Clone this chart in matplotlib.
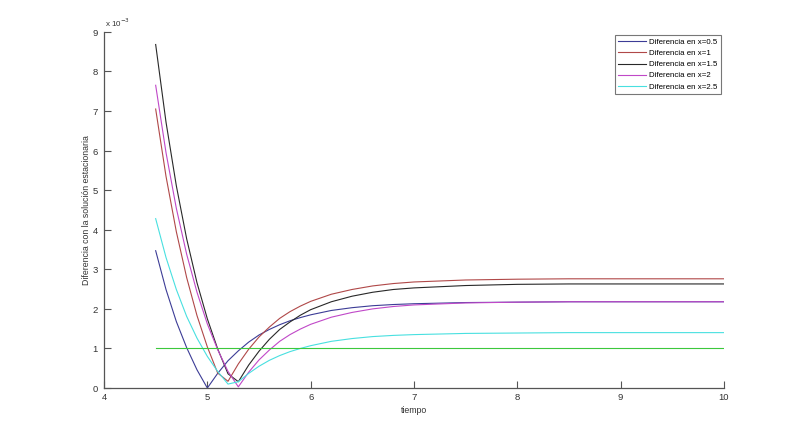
import numpy as np
import matplotlib.pyplot as plt
from matplotlib.ticker import ScalarFormatter

plt.rcParams['font.family'] = ['Liberation Sans', 'DejaVu Sans']

# tiempo de muestreo
t = [4.5, 4.6, 4.7, 4.8, 4.9, 5.0, 5.1, 5.2, 5.3, 5.4, 5.5, 5.6, 5.7, 5.8,
     5.9, 6.0, 6.2, 6.4, 6.6, 6.8, 7.0, 7.5, 8.0, 8.5, 9.0, 9.5, 10.0]

escala = 1e-3
# diferencias (en unidades de 1e-3)
d_05 = [3.47, 2.49, 1.68, 1.02, 0.46, 0.00, 0.37, 0.69, 0.94, 1.16, 1.34, 1.48, 1.60, 1.70,
        1.78, 1.85, 1.96, 2.03, 2.08, 2.11, 2.13, 2.16, 2.17, 2.18, 2.18, 2.18, 2.18]
d_1 = [7.05, 5.35, 3.95, 2.79, 1.83, 1.04, 0.38, 0.17, 0.61, 0.98, 1.29, 1.54, 1.76, 1.93,
       2.07, 2.19, 2.37, 2.49, 2.58, 2.64, 2.68, 2.73, 2.75, 2.76, 2.76, 2.76, 2.76]
d_15 = [8.68, 6.72, 5.11, 3.77, 2.66, 1.75, 0.99, 0.36, 0.16, 0.58, 0.93, 1.23, 1.48, 1.67,
        1.84, 1.98, 2.18, 2.32, 2.42, 2.49, 2.53, 2.59, 2.62, 2.63, 2.63, 2.63, 2.63]
d_2 = [7.65, 5.95, 4.54, 3.38, 2.42, 1.62, 0.97, 0.42, 0.03, 0.40, 0.71, 0.96, 1.18, 1.35,
       1.49, 1.61, 1.79, 1.91, 2.00, 2.06, 2.10, 2.15, 2.17, 2.18, 2.18, 2.18, 2.18]
d_25 = [4.28, 3.30, 2.49, 1.81, 1.26, 0.80, 0.42, 0.10, 0.16, 0.37, 0.55, 0.70, 0.82, 0.92,
        1.00, 1.07, 1.18, 1.25, 1.30, 1.33, 1.35, 1.38, 1.39, 1.40, 1.40, 1.40, 1.40]
tolerancia = 1.0

fig = plt.figure(figsize=(8, 4.36), dpi=100)
ax = fig.add_axes([0.13, 0.11, 0.775, 0.817])

series = [
    (d_05, '#3c3c96', 'Diferencia en x=0.5'),
    (d_1, '#b04848', 'Diferencia en x=1'),
    (d_15, '#282828', 'Diferencia en x=1.5'),
    (d_2, '#c048c8', 'Diferencia en x=2'),
    (d_25, '#48e0e0', 'Diferencia en x=2.5'),
]
for d, c, lab in series:
    ax.plot(t, np.array(d) * escala, color=c, lw=0.8, label=lab)
ax.plot([t[0], t[-1]], [tolerancia * escala] * 2, color='#3cc83c', lw=0.8)

ax.set_xlim(4, 10)
ax.set_ylim(0, 9e-3)
ax.set_yticks(np.arange(0, 10) * escala)
fmt = ScalarFormatter(useMathText=True)
fmt.set_powerlimits((-3, -3))
ax.yaxis.set_major_formatter(fmt)
ax.yaxis.get_offset_text().set_visible(False)
ax.text(0.001, 1.008, r'x 10$^{-3}$', transform=ax.transAxes, fontsize=5.8,
        color='#333333', ha='left', va='bottom')

for s in ['top', 'right']:
    ax.spines[s].set_visible(False)
for s in ['left', 'bottom']:
    ax.spines[s].set_color('#555555')
    ax.spines[s].set_linewidth(0.9)
ax.tick_params(direction='in', length=5, width=0.8, colors='#555555',
               labelcolor='#333333', labelsize=6.8)

ax.set_xlabel('tiempo', fontsize=6.3, color='#333333', labelpad=3)
ax.set_ylabel('Diferencia con la solución estacionaria', fontsize=6.3,
              color='#333333', labelpad=1)

leg = ax.legend(loc='upper right', fontsize=5.7, frameon=True, fancybox=False,
                edgecolor='#555555', handlelength=3.6, handletextpad=0.4,
                borderpad=0.4, labelspacing=0.45, borderaxespad=0,
                bbox_to_anchor=(0.995, 0.99))
leg.get_frame().set_linewidth(0.8)

fig.savefig('out.png', dpi=100)
